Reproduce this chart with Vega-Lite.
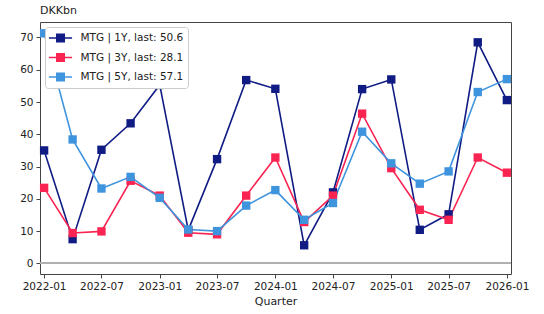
{
  "$schema": "https://vega.github.io/schema/vega-lite/v6.json",
  "width": 471,
  "height": 252,
  "autosize": "none",
  "padding": {"left": 40, "top": 22, "right": 33, "bottom": 40},
  "background": "white",
  "config": {
    "font": "DejaVu Sans",
    "view": {"stroke": "#444", "strokeWidth": 1},
    "axis": {"labelOverlap": false, "labelFontSize": 10.5, "labelColor": "#222", "labelPadding": 3, "tickColor": "#444", "tickSize": 4, "domain": false, "grid": false}
  },
  "title": {"text": "DKKbn", "anchor": "start", "frame": "group", "fontSize": 11, "fontWeight": "normal", "font": "DejaVu Sans", "color": "#222", "offset": 6},
  "data": {"values": [
    {"date": "2022-01-01", "s": "MTG | 1Y, last: 50.6", "v": 35.0},
    {"date": "2022-04-01", "s": "MTG | 1Y, last: 50.6", "v": 7.5},
    {"date": "2022-07-01", "s": "MTG | 1Y, last: 50.6", "v": 35.2},
    {"date": "2022-10-01", "s": "MTG | 1Y, last: 50.6", "v": 43.4},
    {"date": "2023-01-01", "s": "MTG | 1Y, last: 50.6", "v": 55.3},
    {"date": "2023-04-01", "s": "MTG | 1Y, last: 50.6", "v": 10.3},
    {"date": "2023-07-01", "s": "MTG | 1Y, last: 50.6", "v": 32.3},
    {"date": "2023-10-01", "s": "MTG | 1Y, last: 50.6", "v": 56.8},
    {"date": "2024-01-01", "s": "MTG | 1Y, last: 50.6", "v": 54.1},
    {"date": "2024-04-01", "s": "MTG | 1Y, last: 50.6", "v": 5.6},
    {"date": "2024-07-01", "s": "MTG | 1Y, last: 50.6", "v": 22.0},
    {"date": "2024-10-01", "s": "MTG | 1Y, last: 50.6", "v": 54.0},
    {"date": "2025-01-01", "s": "MTG | 1Y, last: 50.6", "v": 57.0},
    {"date": "2025-04-01", "s": "MTG | 1Y, last: 50.6", "v": 10.4},
    {"date": "2025-07-01", "s": "MTG | 1Y, last: 50.6", "v": 15.2},
    {"date": "2025-10-01", "s": "MTG | 1Y, last: 50.6", "v": 68.5},
    {"date": "2026-01-01", "s": "MTG | 1Y, last: 50.6", "v": 50.6},
    {"date": "2022-01-01", "s": "MTG | 3Y, last: 28.1", "v": 23.4},
    {"date": "2022-04-01", "s": "MTG | 3Y, last: 28.1", "v": 9.4},
    {"date": "2022-07-01", "s": "MTG | 3Y, last: 28.1", "v": 9.9},
    {"date": "2022-10-01", "s": "MTG | 3Y, last: 28.1", "v": 25.6},
    {"date": "2023-01-01", "s": "MTG | 3Y, last: 28.1", "v": 21.0},
    {"date": "2023-04-01", "s": "MTG | 3Y, last: 28.1", "v": 9.5},
    {"date": "2023-07-01", "s": "MTG | 3Y, last: 28.1", "v": 9.0},
    {"date": "2023-10-01", "s": "MTG | 3Y, last: 28.1", "v": 21.0},
    {"date": "2024-01-01", "s": "MTG | 3Y, last: 28.1", "v": 32.8},
    {"date": "2024-04-01", "s": "MTG | 3Y, last: 28.1", "v": 12.8},
    {"date": "2024-07-01", "s": "MTG | 3Y, last: 28.1", "v": 21.0},
    {"date": "2024-10-01", "s": "MTG | 3Y, last: 28.1", "v": 46.4},
    {"date": "2025-01-01", "s": "MTG | 3Y, last: 28.1", "v": 29.5},
    {"date": "2025-04-01", "s": "MTG | 3Y, last: 28.1", "v": 16.6},
    {"date": "2025-07-01", "s": "MTG | 3Y, last: 28.1", "v": 13.5},
    {"date": "2025-10-01", "s": "MTG | 3Y, last: 28.1", "v": 32.8},
    {"date": "2026-01-01", "s": "MTG | 3Y, last: 28.1", "v": 28.1},
    {"date": "2022-01-01", "s": "MTG | 5Y, last: 57.1", "v": 71.3},
    {"date": "2022-04-01", "s": "MTG | 5Y, last: 57.1", "v": 38.4},
    {"date": "2022-07-01", "s": "MTG | 5Y, last: 57.1", "v": 23.2},
    {"date": "2022-10-01", "s": "MTG | 5Y, last: 57.1", "v": 26.8},
    {"date": "2023-01-01", "s": "MTG | 5Y, last: 57.1", "v": 20.3},
    {"date": "2023-04-01", "s": "MTG | 5Y, last: 57.1", "v": 10.5},
    {"date": "2023-07-01", "s": "MTG | 5Y, last: 57.1", "v": 10.0},
    {"date": "2023-10-01", "s": "MTG | 5Y, last: 57.1", "v": 17.9},
    {"date": "2024-01-01", "s": "MTG | 5Y, last: 57.1", "v": 22.7},
    {"date": "2024-04-01", "s": "MTG | 5Y, last: 57.1", "v": 13.5},
    {"date": "2024-07-01", "s": "MTG | 5Y, last: 57.1", "v": 18.7},
    {"date": "2024-10-01", "s": "MTG | 5Y, last: 57.1", "v": 40.8},
    {"date": "2025-01-01", "s": "MTG | 5Y, last: 57.1", "v": 31.0},
    {"date": "2025-04-01", "s": "MTG | 5Y, last: 57.1", "v": 24.7},
    {"date": "2025-07-01", "s": "MTG | 5Y, last: 57.1", "v": 28.5},
    {"date": "2025-10-01", "s": "MTG | 5Y, last: 57.1", "v": 53.1},
    {"date": "2026-01-01", "s": "MTG | 5Y, last: 57.1", "v": 57.1}
  ]},
  "layer": [
    {
      "mark": {"type": "rule", "color": "#b0b0b0", "strokeWidth": 1},
      "encoding": {"y": {"datum": 0, "type": "quantitative", "axis": {"title": null, "values": [0, 10, 20, 30, 40, 50, 60, 70]}}}
    },
    {
      "mark": {"type": "line", "strokeWidth": 1.6, "point": {"shape": "square", "filled": true, "size": 70, "opacity": 1}},
      "encoding": {
        "x": {
          "field": "date", "type": "temporal",
          "scale": {"type": "utc", "domain": ["2021-12-19", "2026-01-14"], "nice": false},
          "axis": {
            "title": "Quarter", "titleFontSize": 11, "titleFontWeight": "normal", "titleColor": "#222", "titlePadding": 4,
            "labelExpr": "utcFormat(datum.value, '%Y-%m')",
            "values": ["2022-01-01", "2022-07-01", "2023-01-01", "2023-07-01", "2024-01-01", "2024-07-01", "2025-01-01", "2025-07-01", "2026-01-01"],
            "labelBound": false, "labelFlush": false, "labelAngle": 0
          }
        },
        "y": {
          "field": "v", "type": "quantitative",
          "scale": {"domain": [-3.3, 74.8], "nice": false, "zero": false},
          "axis": {"title": null, "values": [0, 10, 20, 30, 40, 50, 60, 70]}
        },
        "color": {
          "field": "s", "type": "nominal",
          "scale": {"domain": ["MTG | 1Y, last: 50.6", "MTG | 3Y, last: 28.1", "MTG | 5Y, last: 57.1"], "range": ["#101c84", "#fa2452", "#3f94de"]},
          "legend": {
            "title": null, "orient": "top-left", "offset": 5,
            "padding": 4, "strokeColor": "#cccccc", "fillColor": "white", "cornerRadius": 3,
            "labelFontSize": 10.5, "labelColor": "#222", "rowPadding": 5.5,
            "symbolType": "M-1.93,0H1.93M-0.62,-0.62H0.62V0.62H-0.62Z",
            "symbolSize": 144, "symbolStrokeWidth": 1.6, "labelOffset": 13, "symbolOffset": 4.5,
            "encode": {"symbols": {"update": {"fill": {"scale": "color", "field": "value"}, "fillOpacity": {"value": 1}}}}
          }
        }
      }
    }
  ]
}
